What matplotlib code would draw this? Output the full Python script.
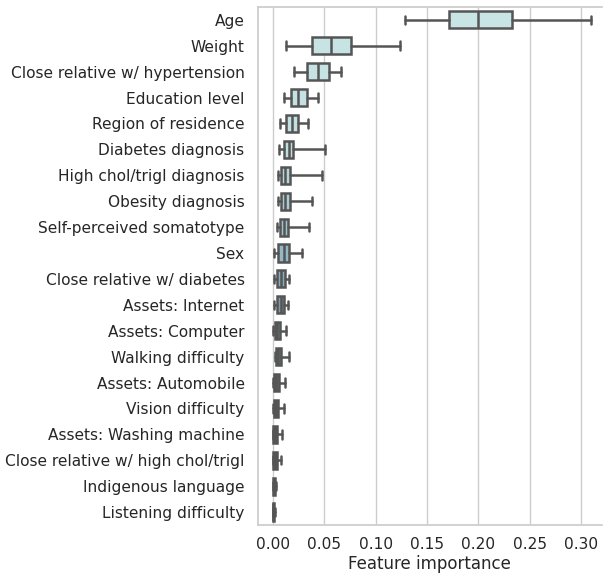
import matplotlib
matplotlib.use("Agg")
import matplotlib.pyplot as plt
import seaborn as sns

features = ["Age", "Weight", "Close relative w/ hypertension", "Education level",
            "Region of residence", "Diabetes diagnosis", "High chol/trigl diagnosis",
            "Obesity diagnosis", "Self-perceived somatotype", "Sex",
            "Close relative w/ diabetes", "Assets: Internet", "Assets: Computer",
            "Walking difficulty", "Assets: Automobile", "Vision difficulty",
            "Assets: Washing machine", "Close relative w/ high chol/trigl",
            "Indigenous language", "Listening difficulty"]
whislo = [0.129, 0.0125, 0.021, 0.011, 0.007, 0.006, 0.005, 0.005, 0.004, 0.001,
          0.001, 0.001, 0.0, 0.002, 0.0, 0.0, 0.0, 0.0, 0.0, 0.0]
q1 = [0.171, 0.038, 0.033, 0.018, 0.013, 0.011, 0.008, 0.008, 0.007, 0.005,
      0.004, 0.004, 0.002, 0.003, 0.001, 0.001, 0.0005, 0.0005, 0.0003, 0.0003]
med = [0.200, 0.057, 0.044, 0.025, 0.019, 0.016, 0.012, 0.012, 0.011, 0.011,
       0.008, 0.008, 0.004, 0.005, 0.003, 0.003, 0.002, 0.002, 0.001, 0.0008]
q3 = [0.233, 0.076, 0.055, 0.033, 0.025, 0.020, 0.017, 0.017, 0.015, 0.016,
      0.012, 0.011, 0.007, 0.008, 0.006, 0.005, 0.004, 0.004, 0.002, 0.0015]
whishi = [0.309, 0.124, 0.066, 0.044, 0.034, 0.051, 0.048, 0.038, 0.035, 0.029,
          0.016, 0.015, 0.013, 0.016, 0.012, 0.011, 0.009, 0.008, 0.003, 0.002]

sns.set_theme(style="whitegrid")
fig, ax = plt.subplots(figsize=(6.05, 5.75), dpi=100)
fig.subplots_adjust(left=0.426, right=0.995, top=0.988, bottom=0.087)

stats = [dict(label=f, whislo=a, q1=b, med=c, q3=d, whishi=e, fliers=[])
         for f, a, b, c, d, e in zip(features, whislo, q1, med, q3, whishi)]
pos = list(range(len(features)))
edge = "#555555"
bp = ax.bxp(stats, positions=pos, vert=False, widths=0.66, patch_artist=True,
            boxprops=dict(edgecolor=edge, linewidth=1.8),
            medianprops=dict(color=edge, linewidth=1.8),
            whiskerprops=dict(color=edge, linewidth=1.8),
            capprops=dict(color=edge, linewidth=1.8), capwidths=0.33)
pal = sns.blend_palette(["#c9e4e4", "#c3e0e2", "#8fb4c3", "#56666e", "#444c50"], len(features))
for p, c in zip(bp["boxes"], pal):
    p.set_facecolor(c)

ax.set_ylim(len(features) - 0.5, -0.5)
ax.set_xlim(-0.0145, 0.32)
ax.set_xticks([0, 0.05, 0.1, 0.15, 0.2, 0.25, 0.3])
ax.set_xticklabels(["0.00", "0.05", "0.10", "0.15", "0.20", "0.25", "0.30"])
ax.grid(axis="y", visible=False)
ax.set_xlabel("Feature importance", fontsize=12, labelpad=2)
ax.tick_params(labelsize=11.1)
ax.tick_params(axis="x", pad=3)
sns.despine(ax=ax, top=False, right=True)
for s in ["left", "bottom", "top"]:
    ax.spines[s].set_color("#cccccc")
plt.savefig("out.png")
